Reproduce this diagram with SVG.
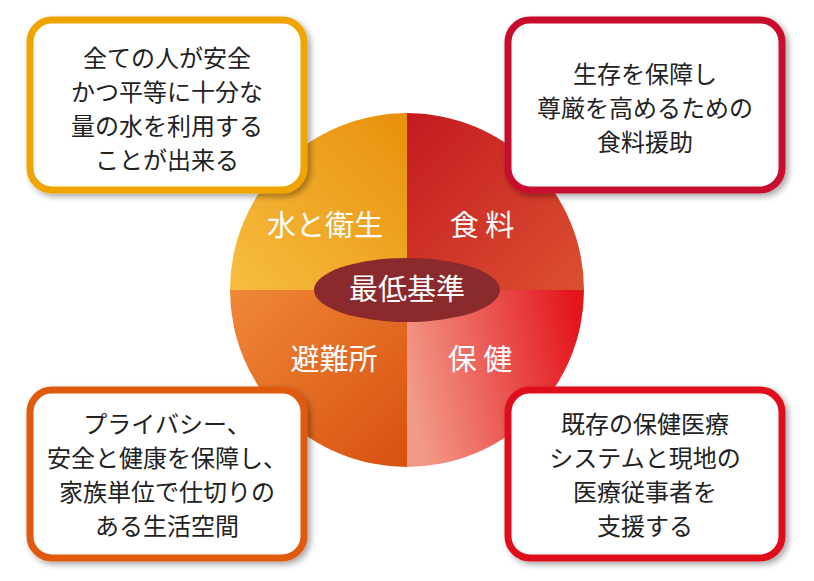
<svg xmlns="http://www.w3.org/2000/svg" width="814" height="581" viewBox="0 0 814 581">
<style>
text{font-family:"Noto Sans CJK JP","Noto Sans",sans-serif;}
.bt{font-size:24px;fill:#222;text-anchor:middle;}
.qt{font-size:29px;fill:#fff;text-anchor:middle;}
.box{fill:#fff;stroke-width:7;filter:url(#sh);}
</style>
<defs>
<filter id="sh" x="-10%" y="-10%" width="125%" height="125%"><feDropShadow dx="3" dy="3" stdDeviation="3" flood-color="#000" flood-opacity="0.35"/></filter>
<linearGradient id="g1" x1="0" y1="1" x2="1" y2="0"><stop offset="0" stop-color="#f7be40"/><stop offset="1" stop-color="#e8900c"/></linearGradient>
<linearGradient id="g2" x1="0" y1="0" x2="1" y2="1"><stop offset="0" stop-color="#c41a20"/><stop offset="1" stop-color="#dc5030"/></linearGradient>
<linearGradient id="g3" x1="0" y1="0" x2="1" y2="1"><stop offset="0" stop-color="#ef8838"/><stop offset="1" stop-color="#d85010"/></linearGradient>
<linearGradient id="g4" x1="0" y1="0.5" x2="1" y2="0.3"><stop offset="0" stop-color="#f29a88"/><stop offset="1" stop-color="#e3141c"/></linearGradient>
</defs>
<g id="circle">
<path d="M407,290 L230,290 A177,177 0 0 1 407,113 Z" fill="url(#g1)"/>
<path d="M407,290 L407,113 A177,177 0 0 1 584,290 Z" fill="url(#g2)"/>
<path d="M407,290 L230,290 A177,177 0 0 0 407,467 Z" fill="url(#g3)"/>
<path d="M407,290 L584,290 A177,177 0 0 1 407,467 Z" fill="url(#g4)"/>
<text class="qt" x="325" y="236">水と衛生</text>
<text class="qt" x="482" y="236">食 料</text>
<text class="qt" x="334" y="370">避難所</text>
<text class="qt" x="480" y="370">保 健</text>
</g>
<g id="center">
<ellipse cx="407" cy="290" rx="93" ry="32" fill="#8b2a2c"/>
<text class="qt" x="407" y="300">最低基準</text>
</g>
<g id="box-tl">
<rect class="box" x="30" y="20" width="274" height="170" rx="22" stroke="#f0a400"/>
<text class="bt" x="167" y="67">全ての人が安全</text>
<text class="bt" x="167" y="101">かつ平等に十分な</text>
<text class="bt" x="167" y="135">量の水を利用する</text>
<text class="bt" x="167" y="169">ことが出来る</text>
</g>
<g id="box-tr">
<rect class="box" x="508" y="20" width="274" height="170" rx="22" stroke="#c8102e"/>
<text class="bt" x="645" y="83">生存を保障し</text>
<text class="bt" x="645" y="117">尊厳を高めるための</text>
<text class="bt" x="645" y="151">食料援助</text>
</g>
<g id="box-bl">
<rect class="box" x="30" y="390" width="274" height="168" rx="22" stroke="#e05a10"/>
<text class="bt" x="167" y="433">プライバシー、</text>
<text class="bt" x="167" y="467">安全と健康を保障し、</text>
<text class="bt" x="167" y="501">家族単位で仕切りの</text>
<text class="bt" x="167" y="535">ある生活空間</text>
</g>
<g id="box-br">
<rect class="box" x="508" y="390" width="274" height="168" rx="22" stroke="#e0101c"/>
<text class="bt" x="645" y="433">既存の保健医療</text>
<text class="bt" x="645" y="467">システムと現地の</text>
<text class="bt" x="645" y="501">医療従事者を</text>
<text class="bt" x="645" y="535">支援する</text>
</g>
<g id="connectors"></g>
</svg>
